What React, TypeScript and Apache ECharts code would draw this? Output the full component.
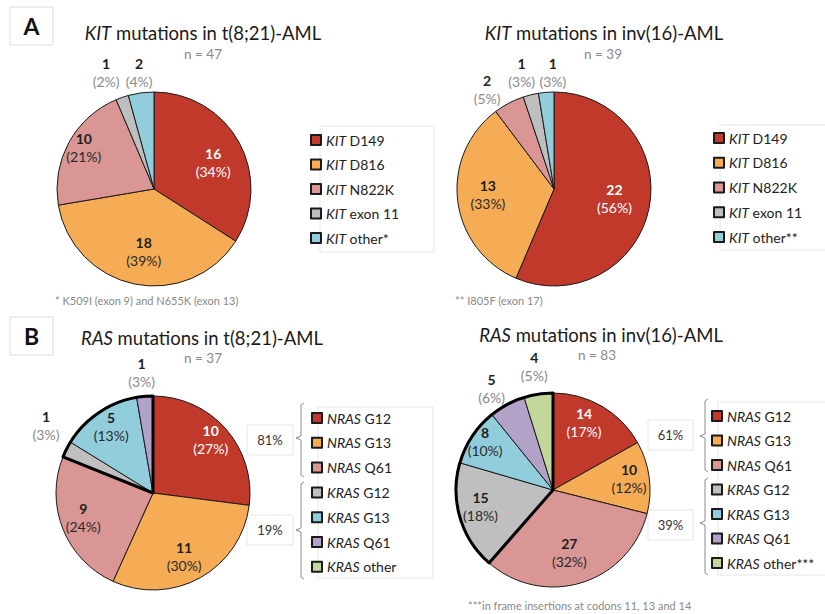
import React, { useEffect, useRef } from 'react';
import * as echarts from 'echarts';

// ---------- data ----------
const kitNamesT821 = ['KIT D149', 'KIT D816', 'KIT N822K', 'KIT exon 11', 'KIT other*'];
const kitNamesInv16 = ['KIT D149', 'KIT D816', 'KIT N822K', 'KIT exon 11', 'KIT other**'];
const kitT821Values = [16, 18, 10, 1, 2];
const kitInv16Values = [22, 13, 2, 1, 1];

const rasNamesT821 = ['NRAS G12', 'NRAS G13', 'NRAS Q61', 'KRAS G12', 'KRAS G13', 'KRAS Q61', 'KRAS other'];
const rasNamesInv16 = ['NRAS G12', 'NRAS G13', 'NRAS Q61', 'KRAS G12', 'KRAS G13', 'KRAS Q61', 'KRAS other***'];
const rasT821Values = [10, 11, 9, 1, 5, 1, 0];
const rasInv16Values = [14, 10, 27, 15, 8, 5, 4];
const nrasCount = 3;

const chartTitles = [
  '{i|KIT} mutations in t(8;21)-AML',
  '{i|KIT} mutations in inv(16)-AML',
  '{i|RAS} mutations in t(8;21)-AML',
  '{i|RAS} mutations in inv(16)-AML',
];
const footnotes = [
  '* K509I (exon 9) and N655K (exon 13)',
  '** I805F (exon 17)',
  '***in frame insertions at codons 11, 13 and 14',
];

// ---------- styles ----------
const kitColors = ['#C0392B', '#F5AC55', '#D99694', '#BFBFBF', '#92CDDC'];
const rasColors = ['#C0392B', '#F5AC55', '#D99694', '#BFBFBF', '#92CDDC', '#B3A2C7', '#C3D69B'];
const FONT = 'Lato, "Open Sans", sans-serif';
const R = 97;

const tonesKitT821 = ['light', 'dark', 'dark', 'out', 'out'];
const tonesKitInv16 = ['light', 'dark', 'out', 'out', 'out'];
const tonesRasT821 = ['light', 'dark', 'dark', 'out', 'dark', 'out', 'out'];
const tonesRasInv16 = ['light', 'dark', 'dark', 'dark', 'dark', 'out', 'out'];

const offKitT821 = [[14, -2], [0, 12], [-25, -17], [-31, -68], [-8, -65]];
const offKitInv16 = [[10, -1], [-15, -1], [-43, -54], [-20, -66], [3, -65]];
const offRasT821 = [[19, -19], [6, 19], [-22, 5], [-61, -44], [-13, -24], [-7, -69], [0, 0]];
const offRasInv16 = [[5, -23], [25, -5], [1, 13], [-23, 2], [-25, -20], [-37, -56], [-11, -73]];

const sum = (a: number[]) => a.reduce((s, v) => s + v, 0);

const labelRich = {
  nlight: { fontFamily: FONT, fontSize: 14, fontWeight: 'bold', color: '#ffffff', lineHeight: 18 },
  plight: { fontFamily: FONT, fontSize: 14, color: '#ffffff', lineHeight: 18 },
  ndark: { fontFamily: FONT, fontSize: 14, fontWeight: 'bold', color: '#1e1e1e', lineHeight: 18 },
  pdark: { fontFamily: FONT, fontSize: 14, color: '#2a2a2a', lineHeight: 18 },
  nout: { fontFamily: FONT, fontSize: 14, fontWeight: 'bold', color: '#1e1e1e', lineHeight: 18 },
  pout: { fontFamily: FONT, fontSize: 14, color: '#8a8a8a', lineHeight: 18 },
};

function pieSeries(names: string[], values: number[], colors: string[], tones: string[], offsets: number[][], center: number[]) {
  return {
    type: 'pie',
    center,
    radius: R,
    startAngle: 90,
    clockwise: true,
    avoidLabelOverlap: false,
    percentPrecision: 0,
    z: 2,
    itemStyle: { borderColor: '#1a1a1a', borderWidth: 1 },
    emphasis: { disabled: true },
    label: {
      show: true,
      position: 'inside',
      formatter: (p: any) => {
        const t = tones[p.dataIndex];
        return `{n${t}|${p.value}}\n{p${t}|(${p.percent}%)}`;
      },
      rich: labelRich,
    },
    labelLine: { show: false },
    labelLayout: (p: any) => ({ dx: offsets[p.dataIndex][0], dy: offsets[p.dataIndex][1] }),
    data: names.map((n, i) => ({
      name: n,
      value: values[i],
      itemStyle: { color: colors[i] },
      label: { show: values[i] > 0 },
    })),
  };
}

function groupOutline(values: number[], center: number[]) {
  return {
    type: 'pie',
    center,
    radius: R,
    startAngle: 90,
    clockwise: true,
    silent: true,
    z: 3,
    label: { show: false },
    labelLine: { show: false },
    emphasis: { disabled: true },
    data: [
      { name: 'NRAS', value: sum(values.slice(0, nrasCount)), itemStyle: { color: 'rgba(0,0,0,0)', borderWidth: 0 } },
      { name: 'KRAS', value: sum(values.slice(nrasCount)), itemStyle: { color: 'rgba(0,0,0,0)', borderColor: '#000', borderWidth: 3 } },
    ],
  };
}

function legend(names: string[], left: number, top: number, gap: number) {
  return {
    data: names,
    orient: 'vertical',
    left,
    top,
    padding: 0,
    icon: 'rect',
    itemWidth: 10,
    itemHeight: 10,
    itemGap: gap,
    selectedMode: false,
    formatter: (name: string) => {
      const i = name.indexOf(' ');
      return `{i|${name.slice(0, i)}}{r|${name.slice(i)}}`;
    },
    textStyle: {
      fontFamily: FONT,
      fontSize: 14,
      color: '#222',
      lineHeight: 16,
      rich: {
        i: { fontFamily: FONT, fontSize: 14, fontStyle: 'italic', color: '#222', lineHeight: 16 },
        r: { fontFamily: FONT, fontSize: 14, color: '#222', lineHeight: 16 },
      },
    },
  };
}

function titleText(text: string, x: number, y: number) {
  return {
    type: 'text',
    x,
    y,
    style: {
      text,
      align: 'center',
      verticalAlign: 'middle',
      fontFamily: FONT,
      fontSize: 18.5,
      fill: '#1a1a1a',
      rich: {
        i: { fontFamily: FONT, fontSize: 18.5, fontStyle: 'italic', fill: '#1a1a1a' },
      },
    },
  };
}

function nText(n: number, x: number, y: number) {
  return {
    type: 'text', x, y,
    style: { text: `n = ${n}`, align: 'center', verticalAlign: 'middle', fontFamily: FONT, fontSize: 13.5, fill: '#8a8a8a' },
  };
}

function faintBox(x: number, y: number, w: number, h: number, stroke = '#e6e6e6') {
  return { type: 'rect', shape: { x, y, width: w, height: h }, style: { fill: 'none', stroke, lineWidth: 1 }, z: 0 };
}

function bracket(x: number, y1: number, y2: number, ym: number) {
  return {
    type: 'polyline',
    shape: { points: [[x + 3, y1], [x, y1 + 2], [x, ym - 2], [x - 5, ym], [x, ym + 2], [x, y2 - 2], [x + 3, y2]] },
    style: { stroke: '#8c8c8c', lineWidth: 1, fill: 'none' },
  };
}

function pctBox(pct: number, x: number, y: number, w: number, h: number) {
  return [
    { type: 'rect', shape: { x, y, width: w, height: h }, style: { fill: '#fff', stroke: '#e6e6e6', lineWidth: 1 } },
    {
      type: 'text', x: x + w / 2, y: y + h / 2,
      style: { text: `${pct}%`, align: 'center', verticalAlign: 'middle', fontFamily: FONT, fontSize: 13, fill: '#333' },
    },
  ];
}

function footnote(text: string, x: number, y: number) {
  return {
    type: 'text', x, y,
    style: { text, align: 'left', verticalAlign: 'middle', fontFamily: FONT, fontSize: 11, fill: '#8a8a8a' },
  };
}

function panelLabel(letter: string, x: number, y: number) {
  return [
    { type: 'rect', shape: { x, y, width: 43, height: 38 }, style: { fill: '#fff', stroke: '#dddddd', lineWidth: 1 } },
    {
      type: 'text', x: x + 21.5, y: y + 19,
      style: { text: letter, align: 'center', verticalAlign: 'middle', fontFamily: FONT, fontSize: 23, fontWeight: 'bold', fill: '#111' },
    },
  ];
}

export default function App() {
  const ref = useRef<HTMLDivElement>(null);
  useEffect(() => {
    if (!ref.current) return;
    const chart = echarts.init(ref.current, undefined, { renderer: 'svg' });

    const rasT821Total = sum(rasT821Values);
    const rasInv16Total = sum(rasInv16Values);
    const nT821 = Math.round((sum(rasT821Values.slice(0, nrasCount)) / rasT821Total) * 100);
    const kT821 = Math.round((sum(rasT821Values.slice(nrasCount)) / rasT821Total) * 100);
    const nInv16 = Math.round((sum(rasInv16Values.slice(0, nrasCount)) / rasInv16Total) * 100);
    const kInv16 = Math.round((sum(rasInv16Values.slice(nrasCount)) / rasInv16Total) * 100);

    chart.setOption({
      animation: false,
      backgroundColor: '#ffffff',
      textStyle: { fontFamily: FONT },
      legend: [
        legend(kitNamesT821, 310, 132, 8.5),
        legend(kitNamesInv16, 713, 130, 8.75),
        legend(rasNamesT821, 311, 410, 8.8),
        legend(rasNamesInv16, 711, 408, 8.5),
      ],
      graphic: [
        faintBox(320, 126, 114, 126),
        faintBox(720, 125, 110, 125),
        faintBox(318, 407, 115, 171),
        faintBox(718, 402, 112, 173),
        ...panelLabel('A', 10, 7),
        ...panelLabel('B', 10, 317),
        titleText(chartTitles[0], 203, 33),
        titleText(chartTitles[1], 604, 33),
        titleText(chartTitles[2], 202, 338),
        titleText(chartTitles[3], 601, 335),
        nText(sum(kitT821Values), 203, 54),
        nText(sum(kitInv16Values), 603, 54),
        nText(rasT821Total, 203, 358),
        nText(rasInv16Total, 597, 355),
        footnote(footnotes[0], 55, 300),
        footnote(footnotes[1], 455, 300),
        footnote(footnotes[2], 468, 605),
        bracket(301, 403, 477, 438),
        bracket(301, 482, 579, 530),
        bracket(705, 399, 472, 436),
        bracket(705, 478, 575, 523),
        ...pctBox(nT821, 247, 425, 46, 30),
        ...pctBox(kT821, 247, 515, 46, 30),
        ...pctBox(nInv16, 648, 420, 45, 30),
        ...pctBox(kInv16, 648, 510, 45, 30),
      ],
      series: [
        pieSeries(kitNamesT821, kitT821Values, kitColors, tonesKitT821, offKitT821, [154, 189]),
        pieSeries(kitNamesInv16, kitInv16Values, kitColors, tonesKitInv16, offKitInv16, [554, 189]),
        pieSeries(rasNamesT821, rasT821Values, rasColors, tonesRasT821, offRasT821, [153, 493]),
        groupOutline(rasT821Values, [153, 493]),
        pieSeries(rasNamesInv16, rasInv16Values, rasColors, tonesRasInv16, offRasInv16, [553, 490]),
        groupOutline(rasInv16Values, [553, 490]),
      ],
    });
    return () => chart.dispose();
  }, []);
  return <div ref={ref} style={{ position: 'absolute', left: 0, top: 0, width: 825, height: 614 }} />;
}
